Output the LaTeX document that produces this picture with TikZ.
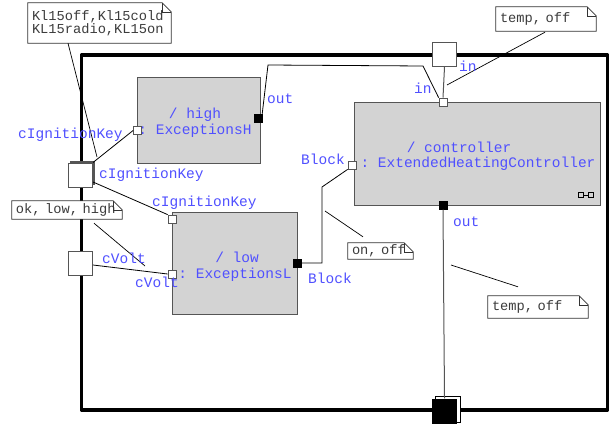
\documentclass[tikz,border=0pt]{standalone}
\usepackage{fontspec}
\setmonofont{Liberation Mono}
\usetikzlibrary{calc}
\definecolor{lblblue}{RGB}{80,80,255}
\definecolor{blockfill}{RGB}{211,211,211}
\definecolor{edgegray}{RGB}{85,85,85}
\definecolor{notetext}{RGB}{60,60,60}
\begin{document}
\begin{tikzpicture}[x=1pt,y=-1pt,
  lbl/.style={text=lblblue,font=\fontsize{14.5}{16}\selectfont\ttfamily,inner sep=0pt,anchor=base west},
  blktext/.style={text=lblblue,font=\fontsize{14.5}{16}\selectfont\ttfamily,inner sep=0pt,anchor=base},
  blk/.style={draw=edgegray,fill=blockfill,line width=1pt,rectangle,inner sep=0pt},
  inport/.style={draw=edgegray,fill=white,minimum size=8pt,inner sep=0pt,line width=0.8pt},
  outport/.style={draw=black,fill=black,minimum size=8pt,inner sep=0pt},
  fport/.style={draw=edgegray,fill=white,minimum size=24pt,inner sep=0pt,line width=1pt},
  conn/.style={draw=black,line width=0.8pt},
  gconn/.style={draw=edgegray,line width=1pt},
  leader/.style={draw=black,line width=0.7pt},
  notebox/.style={fill=white,inner xsep=4pt,inner ysep=0pt,align=left,
    font=\fontsize{13.7}{13}\selectfont\ttfamily,text=notetext},
  noteedge/.style={draw=black!80,line width=0.8pt}
]
\useasboundingbox (0,0) rectangle (609,425);
\fill[white] (0,0) rectangle (609,425);

% outer frame
\draw[line width=3.8pt,line join=round] (81.5,55) rectangle (607.5,410);

% blocks
\node[blk,minimum width=123pt,minimum height=85pt] (high) at (198.5,120.5) {};
\node[blk,minimum width=125pt,minimum height=102pt] (low) at (234.5,263) {};
\node[blk,minimum width=246pt,minimum height=103pt] (ctrl) at (477,153.5) {};

\node[blktext] (ht1) at (195,118) {/ high};
\node[blktext] (ht2) at (195,134) {: ExceptionsH};
\node[blktext] (lt1) at (237,262) {/ low};
\node[blktext] (lt2) at (235,278) {: ExceptionsL};
\node[blktext] (ct1) at (459,152) {/ controller};
\node[blktext] (ct2) at (478,167) {: ExtendedHeatingController};

% composite icon
\node[draw=black,minimum size=5pt,inner sep=0pt,line width=0.6pt] (ic1) at (580.5,195) {};
\node[draw=black,minimum size=5pt,inner sep=0pt,line width=0.6pt] (ic2) at (590.5,195) {};
\draw[line width=0.6pt] (ic1.east) -- (ic2.west);

% ports on blocks
\node[inport] (hIn) at (137.5,130.5) {};
\node[outport] (hOut) at (258,118) {};
\node[inport] (lCK) at (172,219) {};
\node[inport] (lCV) at (172,274) {};
\node[outport] (lOut) at (297,263) {};
\node[inport] (cIn) at (443,102) {};
\node[inport] (cBlk) at (352,165) {};
\node[outport] (cOut) at (443,205.5) {};

% frame ports
\fill[edgegray] (70,161) rectangle (95,185);
\node[fport] (pCK) at (80.5,175) {};
\node[fport] (pCV) at (80.5,263.5) {};
\node[fport] (pTop) at (444.5,54.5) {};
\draw[draw=black,fill=white,line width=0.8pt] (435,396) rectangle (460,422);
\node[fill=black,minimum size=25pt,inner sep=0pt] (pBot) at (444.5,411) {};

% connectors
\coordinate (b1) at (268,65);
\coordinate (b2) at (423,66);
\coordinate (b3) at (322,263);
\coordinate (b4) at (322,187);
\draw[conn] (pCK.north east) -- (hIn.west);
\draw[conn] (pCK.east |- 0,182) -- (lCK.north west);
\draw[conn] (pCV.east |- 0,265) -- (lCV.west);
\draw[conn] (hOut.north east) -- (b1) -- (b2) -- (cIn.north west);
\draw[gconn] (pTop.south) -- (cIn.north);
\draw[conn] (lOut.east) -- (b3) -- (b4) -- (cBlk.south west);
\draw[gconn] (cOut.south) -- (pBot.north);

% notes
\node[notebox,minimum width=143pt,minimum height=40pt,text width=135pt] (n1) at (99.5,23) {Kl15off,Kl15cold\\KL15radio,KL15on};
\node[notebox,minimum width=110pt,minimum height=18pt,text width=102pt] (n2) at (67,210) {ok, low, high};
\node[notebox,minimum width=65pt,minimum height=16pt,text width=57pt] (n3) at (380.5,251) {on, off};
\node[notebox,minimum width=100pt,minimum height=24pt,text width=92pt] (n4) at (546,19) {temp, off};
\node[notebox,minimum width=100pt,minimum height=22pt,text width=92pt] (n5) at (538,307) {temp, off};
\foreach \n in {n1,n2,n3,n4,n5}{
  \draw[noteedge] (\n.north west) -- ([xshift=-9pt]\n.north east) -- ([yshift=-9pt]\n.north east) -- (\n.south east) -- (\n.south west) -- cycle;
  \draw[noteedge,line width=0.5pt] ([xshift=-9pt]\n.north east) -- ([xshift=-9pt,yshift=-9pt]\n.north east) -- ([yshift=-9pt]\n.north east);
}

% note leaders
\coordinate (e1) at (97,157);
\coordinate (e2) at (145,266);
\coordinate (e3) at (325,211);
\coordinate (e4) at (447,85);
\coordinate (e5) at (451,265);
\draw[leader] (n1.south west -| 68,0) -- (e1);
\draw[leader] (n2.south west -| 94,0) ++(0,4) -- (e2);
\draw[leader] (n3.north west -| 363,0) ++(0,-6) -- (e3);
\draw[leader] (n4.south west -| 545,0) ++(0,1) -- (e4);
\draw[leader] (n5.north west -| 518,0) ++(0,-9) -- (e5);

% labels
\node[lbl] (L1) at (18,138) {cIgnitionKey};
\node[lbl] (L2) at (99,178) {cIgnitionKey};
\node[lbl] (L3) at (152,206) {cIgnitionKey};
\node[lbl] (L4) at (102,263) {cVolt};
\node[lbl] (L5) at (135,287) {cVolt};
\node[lbl] (L6) at (267,103) {out};
\node[lbl] (L7) at (308,283) {Block};
\node[lbl] (L8) at (301,164) {Block};
\node[lbl] (L9) at (414,94) {in};
\node[lbl] (L10) at (459,72) {in};
\node[lbl] (L11) at (453,226) {out};
\end{tikzpicture}
\end{document}
